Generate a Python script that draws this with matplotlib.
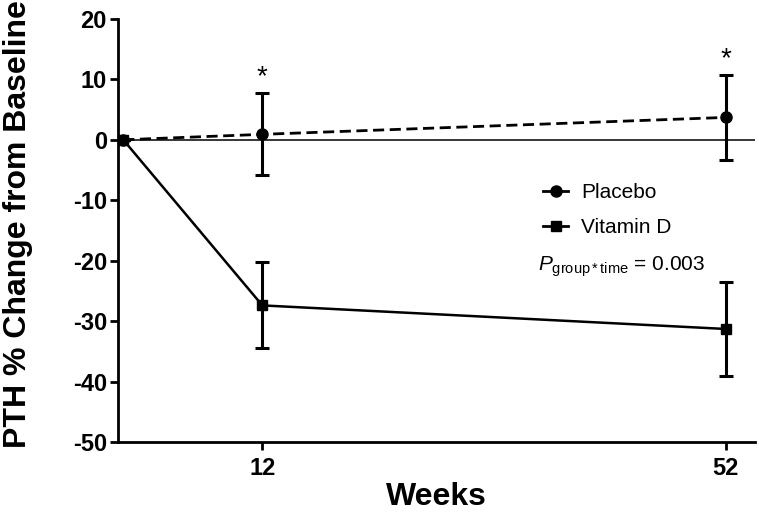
import matplotlib
matplotlib.use('Agg')
import matplotlib.pyplot as plt
from matplotlib.lines import Line2D

plt.rcParams['font.family'] = ['Liberation Sans', 'DejaVu Sans']
plt.rcParams['mathtext.fontset'] = 'custom'
plt.rcParams['mathtext.rm'] = 'Liberation Sans'
plt.rcParams['mathtext.it'] = 'Liberation Sans:italic'

# data
weeks = [0, 12, 52]
placebo = [0, 0.9, 3.7]
placebo_err = [0, 6.8, 7.0]
vitd = [0, -27.4, -31.3]
vitd_err = [0, 7.1, 7.8]
star_weeks = [12, 52]
xticks = [12, 52]
yticks = [20, 10, 0, -10, -20, -30, -40, -50]

fig = plt.figure(figsize=(7.59, 5.16), dpi=100)
ax = fig.add_axes([0.1555, 0.1434, 0.839, 0.82])

ax.axhline(0, color='black', lw=1.1, zorder=1)

ax.errorbar(weeks, placebo, yerr=placebo_err, color='black', lw=2, ls=(0, (4, 2)),
            marker='o', ms=8, elinewidth=2.2, capsize=5, capthick=2.2, zorder=3)
ax.errorbar(weeks, vitd, yerr=vitd_err, color='black', lw=1.8, ls='-',
            marker='s', ms=7, elinewidth=2.2, capsize=5, capthick=2.2, zorder=4)

# asterisks above the placebo error bars
for w in star_weeks:
    i = weeks.index(w)
    ax.text(w, placebo[i] + placebo_err[i] + 0.5, '*', ha='center', va='bottom',
            fontsize=20)

ax.set_xlim(-0.45, 54.5)
ax.set_ylim(-50, 20)
ax.set_xticks(xticks)
ax.set_yticks(yticks)
ax.set_xticklabels([str(t) for t in xticks], fontsize=17, fontweight='bold')
ax.set_yticklabels([str(t) for t in yticks], fontsize=17, fontweight='bold')
ax.tick_params(axis='both', direction='out', length=6, width=2, pad=2)
ax.tick_params(axis='x', pad=5)

for s in ['top', 'right']:
    ax.spines[s].set_visible(False)
for s in ['left', 'bottom']:
    ax.spines[s].set_linewidth(2)

ax.set_xlabel('Weeks', fontsize=23, fontweight='bold', labelpad=1)
ax.set_ylabel('PTH % Change from Baseline', fontsize=23, fontweight='bold')
ax.yaxis.set_label_coords(-0.133, 0.515)

handles = [Line2D([], [], color='black', lw=2, marker='o', ms=8),
           Line2D([], [], color='black', lw=2, marker='s', ms=7)]
ax.legend(handles, ['Placebo', 'Vitamin D'], loc='center left',
          bbox_to_anchor=(0.668, 0.548), frameon=False, fontsize=15,
          handlelength=1.2, handletextpad=0.6, labelspacing=0.75,
          borderaxespad=0, borderpad=0)

ax.text(0.659, 0.405, r'$\mathit{P}_{\mathrm{group*time}}$ = 0.003', transform=ax.transAxes,
        fontsize=15, ha='left', va='baseline')

fig.savefig('out.png', dpi=100)
